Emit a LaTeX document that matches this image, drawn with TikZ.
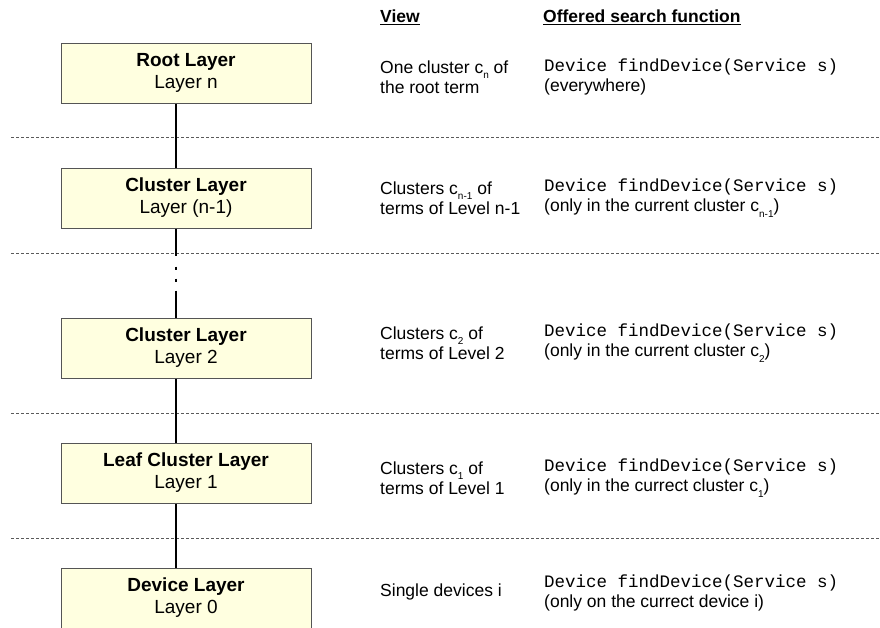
\documentclass[tikz,border=0pt]{standalone}
\usepackage{fontspec}
\setmainfont{Liberation Sans}
\newfontfamily\monofam{Liberation Mono}
\definecolor{boxfill}{RGB}{255,255,224}
\definecolor{boxgray}{RGB}{85,85,85}
\definecolor{sepgray}{RGB}{90,90,90}
\newcommand{\lsub}[1]{\raisebox{-0.32em}{\fontsize{10}{10}\selectfont #1}}
\begin{document}
\begin{tikzpicture}[x=1pt,y=-1pt,
  layerbox/.style={draw=boxgray, fill=boxfill, line width=1pt, minimum width=250pt,
    minimum height=60pt, inner sep=0pt, align=center, font=\fontsize{19}{22}\selectfont},
  coltxt/.style={anchor=west, align=left, inner sep=0pt, font=\fontsize{17.5}{20}\selectfont},
  sepline/.style={draw=sepgray, line width=0.8pt, dash pattern=on 3pt off 2pt},
  link/.style={line width=1.5pt}]
\useasboundingbox (0,0) rectangle (880,627);

% separators
\foreach \yy in {137,253,413,538} \draw[sepline] (11,\yy) -- (880,\yy);

% headers
\node[coltxt, font=\fontsize{17.5}{20}\selectfont\bfseries] (hview) at (380,17) {\underline{View}};
\node[coltxt, font=\fontsize{17.5}{20}\selectfont\bfseries] (hfun) at (543,17) {\underline{Offered search function}};

% layer boxes
\node[layerbox] (Ln) at (186,73) {\textbf{Root Layer}\\Layer n};
\node[layerbox] (Lm) at (186,198) {\textbf{Cluster Layer}\\Layer (n-1)};
\node[layerbox] (L2) at (186,348) {\textbf{Cluster Layer}\\Layer 2};
\node[layerbox] (L1) at (186,473) {\textbf{Leaf Cluster Layer}\\Layer 1};
\node[layerbox] (L0) at (186,598) {\textbf{Device Layer}\\Layer 0};

% connectors
\draw[link] ([xshift=-10pt]Ln.south) -- ([xshift=-10pt]Lm.north);
\draw[link, dash pattern=on 27pt off 11pt on 3pt off 9pt on 3pt off 9pt on 60pt]
  ([xshift=-10pt]Lm.south) -- ([xshift=-10pt]L2.north);
\draw[link] ([xshift=-10pt]L2.south) -- ([xshift=-10pt]L1.north);
\draw[link] ([xshift=-10pt]L1.south) -- ([xshift=-10pt]L0.north);

% view column
\node[coltxt] (vn) at (380,77) {One cluster c\lsub{n} of\\the root term};
\node[coltxt] (vm) at (380,198) {Clusters c\lsub{n-1} of\\terms of Level n-1};
\node[coltxt] (v2) at (380,343) {Clusters c\lsub{2} of\\terms of Level 2};
\node[coltxt] (v1) at (380,478) {Clusters c\lsub{1} of\\terms of Level 1};
\node[coltxt] (v0) at (380,592) {Single devices i};

% function column
\node[coltxt] (fn) at (544,77) {{\monofam Device findDevice(Service s)}\\(everywhere)};
\node[coltxt] (fm) at (544,198) {{\monofam Device findDevice(Service s)}\\(only in the current cluster c\lsub{n-1})};
\node[coltxt] (f2) at (544,343) {{\monofam Device findDevice(Service s)}\\(only in the current cluster c\lsub{2})};
\node[coltxt] (f1) at (544,478) {{\monofam Device findDevice(Service s)}\\(only in the currect cluster c\lsub{1})};
\node[coltxt] (f0) at (544,593) {{\monofam Device findDevice(Service s)}\\(only on the currect device i)};
\end{tikzpicture}
\end{document}
